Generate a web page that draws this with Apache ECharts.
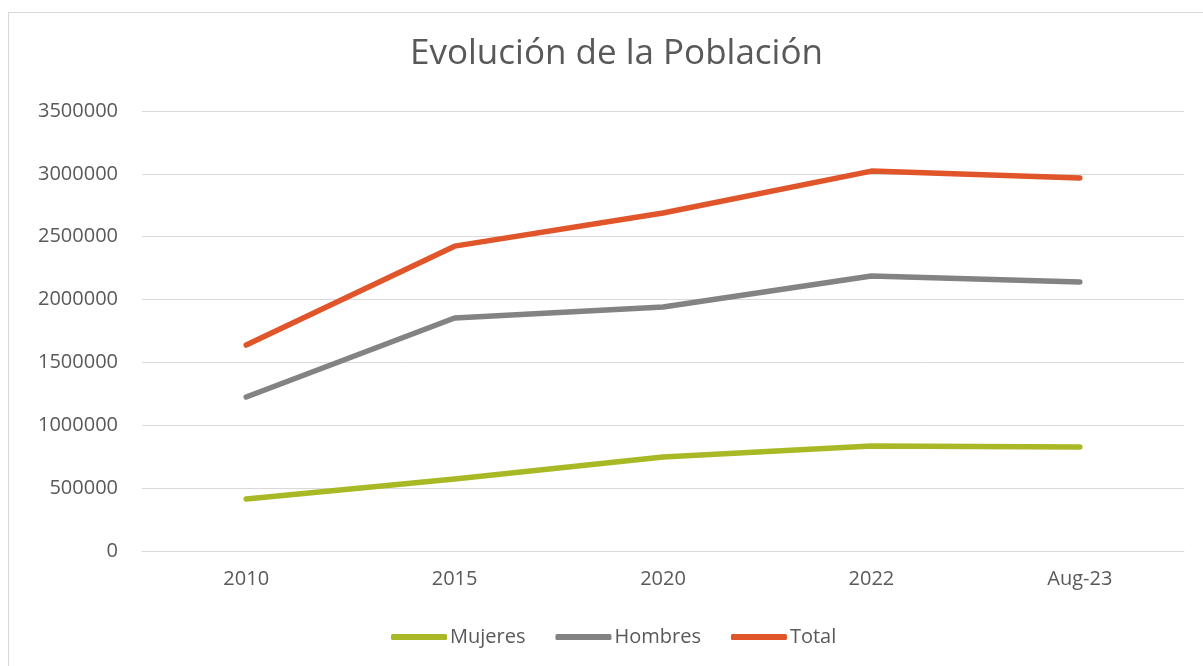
<!DOCTYPE html>
<html>
<head>
<meta charset="utf-8">
<script src="https://cdn.jsdelivr.net/npm/echarts@6/dist/echarts.min.js"></script>
<style>
  html, body { margin: 0; padding: 0; background: #fff; }
  #frame {
    position: absolute; left: 8px; top: 12px; width: 1300px; height: 800px;
    border-left: 1px solid #d9d9d9; border-top: 1px solid #d9d9d9;
  }
  #chart { position: absolute; left: 0; top: 0; width: 1203px; height: 666px; }
</style>
</head>
<body>
<div id="frame"></div>
<div id="chart"></div>
<script>
const categories = ['2010', '2015', '2020', '2022', 'Aug-23']
const mujeres = [413000, 572000, 748000, 835000, 827000]
const hombres = [1225000, 1853000, 1941000, 2187000, 2140000]
const total = [1638000, 2425000, 2689000, 3022000, 2967000]

const fontFamily = '"Open Sans", "Noto Sans", sans-serif'
const textColor = '#595959'

const chart = echarts.init(document.getElementById('chart'))

const lineSeries = (name, data, color) => ({
  name,
  type: 'line',
  data,
  symbol: 'none',
  lineStyle: { width: 5.5, color, cap: 'round', join: 'round' },
  itemStyle: { color },
  animation: false
})

chart.setOption({
  title: {
    text: 'Evolución de la Población',
    left: 405,
    top: 32,
    textStyle: { fontFamily, fontSize: 35, fontWeight: 'normal', color: textColor }
  },
  legend: {
    bottom: 14,
    left: 386,
    itemWidth: 56,
    itemHeight: 6,
    itemGap: 30,
    icon: 'roundRect',
    textStyle: { fontFamily, fontSize: 20, color: textColor, padding: [0, 0, 0, -2] },
    data: ['Mujeres', 'Hombres', 'Total']
  },
  grid: { left: 142, right: 19, top: 111, bottom: 115 },
  xAxis: {
    type: 'category',
    data: categories,
    axisLine: { show: true, lineStyle: { color: '#d9d9d9', width: 1 } },
    axisTick: { show: false },
    axisLabel: { fontFamily, fontSize: 20, color: textColor, margin: 18 }
  },
  yAxis: {
    type: 'value',
    min: 0,
    max: 3500000,
    interval: 500000,
    axisLine: { show: false },
    axisTick: { show: false },
    splitLine: { lineStyle: { color: '#d9d9d9', width: 1 } },
    axisLabel: { fontFamily, fontSize: 20, color: textColor, margin: 24, formatter: v => String(v) }
  },
  series: [
    lineSeries('Mujeres', mujeres, '#a9b925'),
    lineSeries('Hombres', hombres, '#838383'),
    lineSeries('Total', total, '#e0552a')
  ]
})
</script>
</body>
</html>
